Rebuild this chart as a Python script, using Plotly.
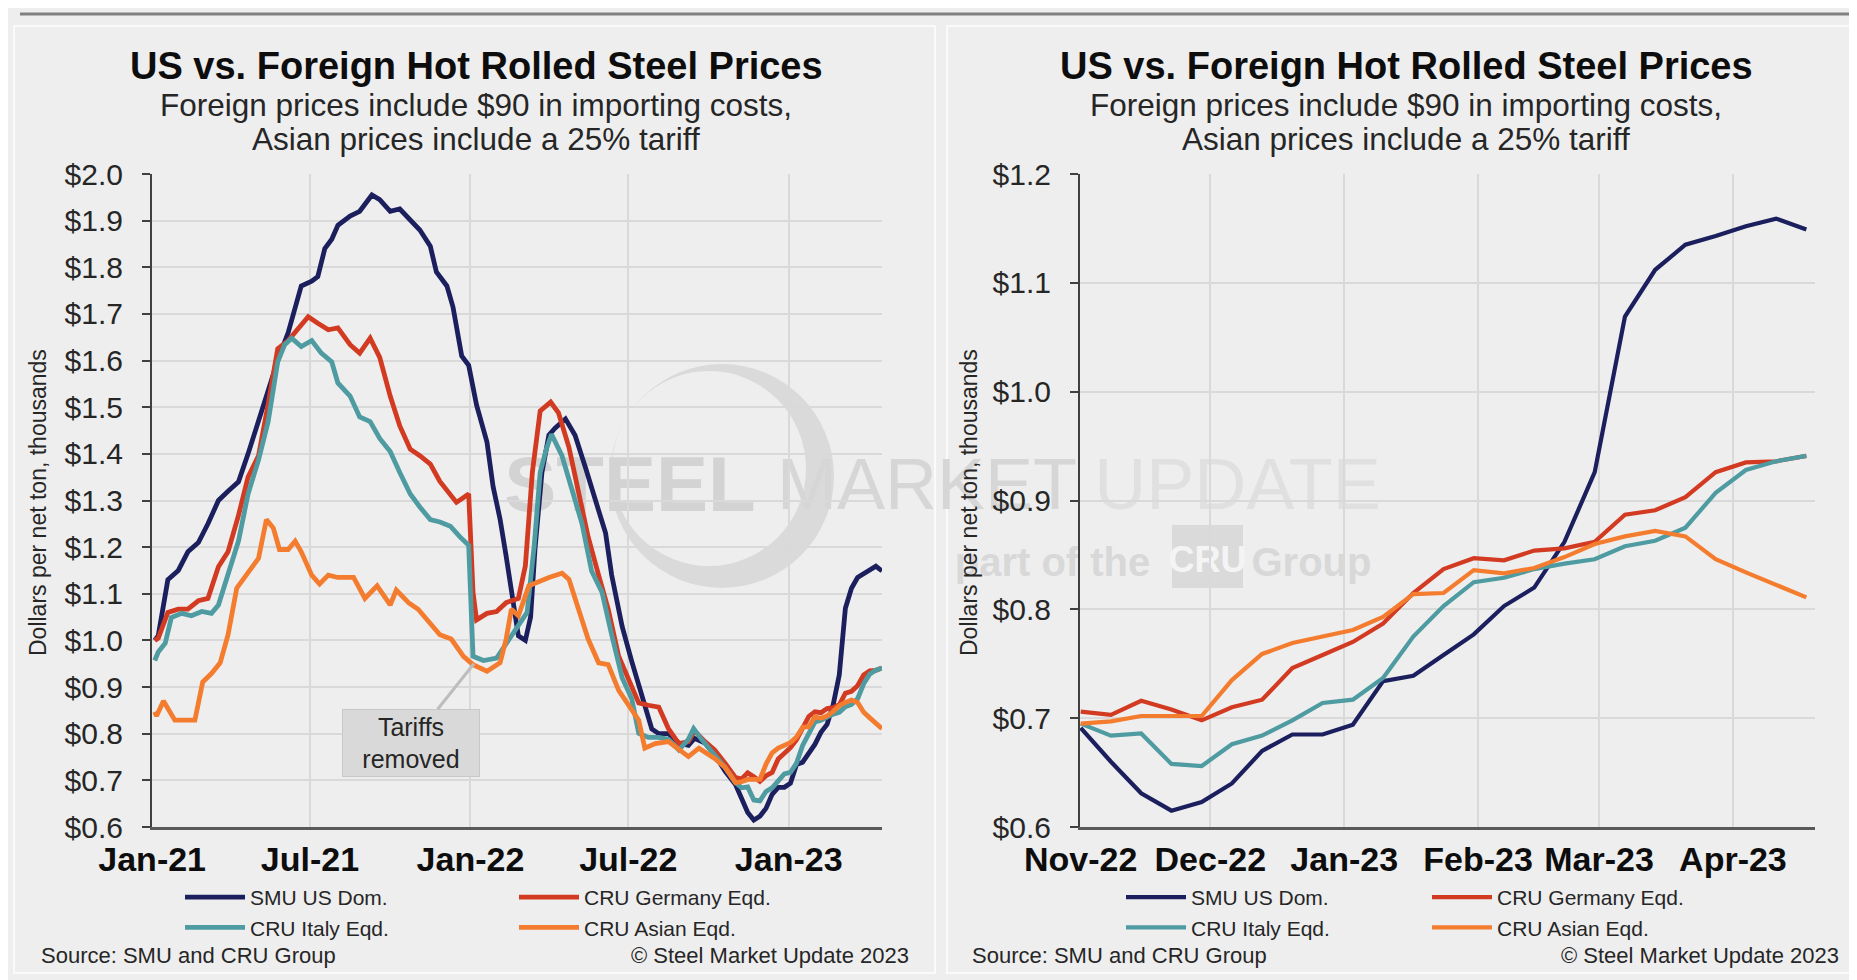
import plotly.graph_objects as go

FONT = "Liberation Sans, Arial, Helvetica, sans-serif"
OFF = 8            # default page margin of the html body
FW, FH = 1857 - OFF, 980 - OFF

# ---------------- data ($ thousands per net ton) -------------
series_names = ["SMU US Dom.", "CRU Germany Eqd.", "CRU Italy Eqd.", "CRU Asian Eqd."]
series_colors = ["#1c1f5e", "#d23b22", "#4e9ba1", "#f47c2f"]

# Jan-2021 .. Oct-2022 (left chart)
us_dates_early = ["2021-01-04", "2021-01-08", "2021-01-19", "2021-01-31", "2021-02-11", "2021-02-23",
                  "2021-03-06", "2021-03-18", "2021-03-29", "2021-04-10", "2021-04-21", "2021-05-03",
                  "2021-05-14", "2021-05-25", "2021-06-06", "2021-06-21", "2021-07-03", "2021-07-10",
                  "2021-07-18", "2021-07-26", "2021-08-02", "2021-08-16", "2021-08-27", "2021-09-10",
                  "2021-09-19", "2021-10-01", "2021-10-12", "2021-10-24", "2021-11-04", "2021-11-16",
                  "2021-11-23", "2021-12-05", "2021-12-12", "2021-12-22", "2021-12-30", "2022-01-08",
                  "2022-01-20", "2022-01-27", "2022-02-04", "2022-02-11", "2022-02-19", "2022-02-25",
                  "2022-03-05", "2022-03-11", "2022-03-16", "2022-03-24", "2022-04-01", "2022-04-08",
                  "2022-04-20", "2022-05-01", "2022-05-13", "2022-05-24", "2022-06-05", "2022-06-12",
                  "2022-06-24", "2022-07-05", "2022-07-17", "2022-07-28", "2022-08-05", "2022-08-16",
                  "2022-08-28", "2022-09-08", "2022-09-15", "2022-09-27", "2022-10-08", "2022-10-20"]
us_vals_early = [1.00, 1.01, 1.13, 1.15, 1.19, 1.21,
                 1.25, 1.30, 1.32, 1.34, 1.40, 1.47,
                 1.54, 1.60, 1.66, 1.76, 1.77, 1.78,
                 1.84, 1.86, 1.89, 1.91, 1.92, 1.955,
                 1.945, 1.92, 1.925, 1.90, 1.88, 1.845,
                 1.79, 1.76, 1.715, 1.61, 1.59, 1.505,
                 1.425, 1.33, 1.26, 1.18, 1.075, 1.01,
                 1.00, 1.05, 1.195, 1.36, 1.44, 1.455,
                 1.475, 1.44, 1.37, 1.305, 1.23, 1.14,
                 1.03, 0.955, 0.875, 0.81, 0.80, 0.80,
                 0.78, 0.775, 0.79, 0.78, 0.755, 0.72]

de_dates_early = ["2021-01-04", "2021-01-08", "2021-01-19", "2021-01-31", "2021-02-11", "2021-02-23",
                  "2021-03-06", "2021-03-18", "2021-03-29", "2021-04-10", "2021-04-21", "2021-05-03",
                  "2021-05-14", "2021-05-25", "2021-06-06", "2021-06-17", "2021-06-29", "2021-07-10",
                  "2021-07-22", "2021-08-02", "2021-08-16", "2021-08-27", "2021-09-08", "2021-09-19",
                  "2021-10-01", "2021-10-12", "2021-10-24", "2021-11-04", "2021-11-16", "2021-11-27",
                  "2021-12-16", "2021-12-30", "2022-01-04", "2022-01-08", "2022-01-20", "2022-01-31",
                  "2022-02-11", "2022-02-25", "2022-03-05", "2022-03-13", "2022-03-22", "2022-04-03",
                  "2022-04-12", "2022-04-24", "2022-05-05", "2022-05-16", "2022-05-28", "2022-06-08",
                  "2022-06-20", "2022-07-01", "2022-07-13", "2022-07-24", "2022-08-05", "2022-08-16",
                  "2022-08-28", "2022-09-08", "2022-09-15", "2022-09-27", "2022-10-08", "2022-10-20"]
de_vals_early = [1.00, 1.005, 1.06, 1.067, 1.067, 1.085,
                 1.09, 1.158, 1.19, 1.268, 1.35, 1.396,
                 1.506, 1.625, 1.643, 1.666, 1.694, 1.68,
                 1.666, 1.67, 1.634, 1.616, 1.648, 1.607,
                 1.524, 1.46, 1.41, 1.396, 1.378, 1.341,
                 1.296, 1.314, 1.103, 1.044, 1.058, 1.062,
                 1.081, 1.09, 1.16, 1.36, 1.492, 1.511,
                 1.488, 1.414, 1.323, 1.222, 1.14, 1.067,
                 0.966, 0.92, 0.866, 0.861, 0.857, 0.811,
                 0.779, 0.783, 0.806, 0.783, 0.765, 0.737]

it_dates_early = ["2021-01-04", "2021-01-08", "2021-01-16", "2021-01-23", "2021-02-04", "2021-02-15",
                  "2021-02-27", "2021-03-10", "2021-03-18", "2021-03-29", "2021-04-10", "2021-04-21",
                  "2021-05-03", "2021-05-14", "2021-05-25", "2021-06-02", "2021-06-10", "2021-06-21",
                  "2021-07-03", "2021-07-14", "2021-07-26", "2021-08-02", "2021-08-16", "2021-08-27",
                  "2021-09-08", "2021-09-19", "2021-10-01", "2021-10-12", "2021-10-24", "2021-11-04",
                  "2021-11-16", "2021-11-27", "2021-12-09", "2021-12-20", "2021-12-30", "2022-01-04",
                  "2022-01-16", "2022-01-31", "2022-02-15", "2022-03-07", "2022-03-15", "2022-03-22",
                  "2022-03-29", "2022-04-04", "2022-04-16", "2022-04-27", "2022-05-09", "2022-05-20",
                  "2022-06-01", "2022-06-12", "2022-06-24", "2022-07-05", "2022-07-13", "2022-07-24",
                  "2022-08-05", "2022-08-16", "2022-08-28", "2022-09-08", "2022-09-14", "2022-09-23",
                  "2022-10-08", "2022-10-20"]
it_vals_early = [0.957, 0.975, 0.994, 1.049, 1.058, 1.053,
                 1.062, 1.058, 1.076, 1.14, 1.213, 1.314,
                 1.387, 1.469, 1.597, 1.634, 1.648, 1.63,
                 1.643, 1.616, 1.597, 1.552, 1.524, 1.479,
                 1.469, 1.433, 1.405, 1.36, 1.314, 1.286,
                 1.259, 1.254, 1.245, 1.222, 1.204, 0.966,
                 0.957, 0.962, 1.005, 1.06, 1.20, 1.36,
                 1.41, 1.442, 1.396, 1.323, 1.25, 1.149,
                 1.103, 1.012, 0.92, 0.875, 0.801, 0.792,
                 0.792, 0.788, 0.765, 0.788, 0.811, 0.788,
                 0.756, 0.728]

as_dates_early = ["2021-01-04", "2021-01-06", "2021-01-14", "2021-01-27", "2021-02-07", "2021-02-19",
                  "2021-02-28", "2021-03-10", "2021-03-20", "2021-03-29", "2021-04-08", "2021-04-17",
                  "2021-04-25", "2021-05-03", "2021-05-12", "2021-05-20", "2021-05-27", "2021-06-06",
                  "2021-06-14", "2021-06-21", "2021-07-03", "2021-07-12", "2021-07-22", "2021-08-02",
                  "2021-08-20", "2021-09-02", "2021-09-16", "2021-10-01", "2021-10-08", "2021-10-22",
                  "2021-11-02", "2021-11-16", "2021-11-27", "2021-12-10", "2021-12-24", "2022-01-04",
                  "2022-01-20", "2022-02-04", "2022-02-11", "2022-02-17", "2022-02-25", "2022-03-09",
                  "2022-03-20", "2022-04-01", "2022-04-16", "2022-04-24", "2022-05-05", "2022-05-16",
                  "2022-05-28", "2022-06-08", "2022-06-20", "2022-07-05", "2022-07-13", "2022-07-20",
                  "2022-08-01", "2022-08-16", "2022-08-28", "2022-09-08", "2022-09-20", "2022-09-27",
                  "2022-10-08", "2022-10-20"]
as_vals_early = [0.847, 0.838, 0.87, 0.829, 0.829, 0.829,
                 0.911, 0.929, 0.952, 1.012, 1.112, 1.135,
                 1.158, 1.176, 1.259, 1.241, 1.195, 1.195,
                 1.213, 1.19, 1.14, 1.121, 1.14, 1.135,
                 1.135, 1.09, 1.117, 1.076, 1.108, 1.081,
                 1.067, 1.035, 1.012, 1.003, 0.966, 0.948,
                 0.934, 0.952, 1.003, 1.067, 1.053, 1.117,
                 1.126, 1.135, 1.144, 1.131, 1.067, 1.003,
                 0.952, 0.948, 0.893, 0.852, 0.829, 0.769,
                 0.779, 0.783, 0.765, 0.751, 0.769, 0.76,
                 0.747, 0.728]

# Weekly Nov-2022 .. Apr-2023 (right chart, also the tail of the left chart)
weekly_dates = ["2022-11-01", "2022-11-08", "2022-11-15", "2022-11-22", "2022-11-29", "2022-12-06",
                "2022-12-13", "2022-12-20", "2022-12-27", "2023-01-03", "2023-01-10", "2023-01-17",
                "2023-01-24", "2023-01-31", "2023-02-07", "2023-02-14", "2023-02-21", "2023-02-28",
                "2023-03-07", "2023-03-14", "2023-03-21", "2023-03-28", "2023-04-04", "2023-04-11",
                "2023-04-18"]
us_weekly = [0.691, 0.660, 0.631, 0.615, 0.623, 0.640, 0.670, 0.685, 0.685, 0.694, 0.734, 0.739,
             0.758, 0.777, 0.803, 0.820, 0.862, 0.926, 1.069, 1.112, 1.135, 1.143, 1.152, 1.159, 1.149]
de_weekly = [0.706, 0.703, 0.716, 0.708, 0.698, 0.710, 0.717, 0.746, 0.758, 0.770, 0.787, 0.815,
             0.837, 0.847, 0.845, 0.854, 0.856, 0.862, 0.887, 0.891, 0.903, 0.926, 0.935, 0.936, 0.941]
it_weekly = [0.695, 0.684, 0.686, 0.658, 0.656, 0.676, 0.684, 0.698, 0.714, 0.717, 0.737, 0.775,
             0.803, 0.825, 0.829, 0.837, 0.842, 0.846, 0.858, 0.863, 0.875, 0.907, 0.928, 0.936, 0.941]
as_weekly = [0.695, 0.697, 0.702, 0.702, 0.702, 0.735, 0.759, 0.769, 0.775, 0.781, 0.793, 0.814,
             0.815, 0.836, 0.833, 0.838, 0.848, 0.860, 0.867, 0.872, 0.867, 0.846, 0.834, 0.823, 0.811]

early_dates = [us_dates_early, de_dates_early, it_dates_early, as_dates_early]
early_vals = [us_vals_early, de_vals_early, it_vals_early, as_vals_early]
weekly_vals = [us_weekly, de_weekly, it_weekly, as_weekly]


# ---------------- helpers (screen px -> paper fraction) -----------------
def px(x):
    return (x - OFF) / FW


def py(y):
    return 1 - (y - OFF) / FH


left_legends = ["legend", "legend2", "legend", "legend2"]
right_legends = ["legend3", "legend4", "legend3", "legend4"]

fig = go.Figure()
for i, name in enumerate(series_names):
    fig.add_trace(go.Scatter(
        x=early_dates[i] + weekly_dates, y=early_vals[i] + weekly_vals[i],
        mode="lines", name=name, line=dict(color=series_colors[i], width=4.8),
        xaxis="x", yaxis="y", legend=left_legends[i], hoverinfo="x+y+name"))
for i, name in enumerate(series_names):
    fig.add_trace(go.Scatter(
        x=weekly_dates, y=weekly_vals[i],
        mode="lines", name=name, line=dict(color=series_colors[i], width=4.2),
        xaxis="x2", yaxis="y2", legend=right_legends[i], hoverinfo="x+y+name"))

grid = "#d9d9d9"
ytick_font = dict(family=FONT, size=30, color="#262626")
xtick_font = dict(family=FONT, size=34, color="#0d0d0d", weight="bold")

common_x = dict(type="date", showgrid=True, gridcolor=grid, gridwidth=1.5, tickformat="%b-%y",
                showline=True, linecolor="#595959", linewidth=2.5, ticks="", tickfont=xtick_font,
                ticklabelstandoff=0, zeroline=False, automargin=False)
common_y = dict(showgrid=True, gridcolor=grid, gridwidth=1.5, dtick=0.1, tickformat="$.1f",
                showline=True, linecolor="#404040", linewidth=2, ticks="outside", ticklen=8,
                tickcolor="#404040", tickwidth=1.5, tickfont=ytick_font, ticklabelstandoff=13,
                zeroline=False, automargin=False)

legend_common = dict(orientation="v", xanchor="left", yanchor="top", bgcolor="rgba(0,0,0,0)",
                     font=dict(family=FONT, size=21, color="#262626"), tracegroupgap=0,
                     itemwidth=60, itemclick=False, itemdoubleclick=False)

fig.update_layout(
    width=FW, height=FH, margin=dict(l=0, r=0, t=0, b=0),
    paper_bgcolor="#eeeeee", plot_bgcolor="rgba(0,0,0,0)",
    font=dict(family=FONT, color="#262626"),
    showlegend=True,
    xaxis=dict(common_x, domain=[px(152), px(882)], anchor="y", dtick="M6",
               tick0="2021-01-01", range=["2020-12-31 20:00", "2023-04-18"]),
    yaxis=dict(common_y, domain=[py(827), py(174)], anchor="x", range=[0.6, 2.0]),
    xaxis2=dict(common_x, domain=[px(1080), px(1815)], anchor="y2", dtick="M1",
                tick0="2022-11-01", range=["2022-10-31 20:00", "2023-04-20"]),
    yaxis2=dict(common_y, domain=[py(827), py(174)], anchor="x2", range=[0.6, 1.2]),
    legend=dict(legend_common, x=px(180), y=py(877)),
    legend2=dict(legend_common, x=px(514), y=py(877)),
    legend3=dict(legend_common, x=px(1121), y=py(877)),
    legend4=dict(legend_common, x=px(1427), y=py(877)),
)

# ---------------- decorations -----------------
shapes = []
# top rule
shapes.append(dict(type="line", xref="paper", yref="paper", x0=px(20), x1=1, y0=py(14), y1=py(14),
                   line=dict(color="#808080", width=3), layer="below"))
# panel frames
shapes.append(dict(type="rect", xref="paper", yref="paper", x0=px(14), x1=px(935), y0=py(973), y1=py(26),
                   line=dict(color="#fafafa", width=2), fillcolor="rgba(0,0,0,0)", layer="below"))
shapes.append(dict(type="rect", xref="paper", yref="paper", x0=px(947), x1=px(1856), y0=py(973), y1=py(26),
                   line=dict(color="#fafafa", width=2), fillcolor="rgba(0,0,0,0)", layer="below"))
# watermark swoosh
shapes.append(dict(type="circle", xref="paper", yref="paper", x0=px(610), x1=px(834), y0=py(588), y1=py(364),
                   line=dict(width=0), fillcolor="#dadada", layer="below"))
shapes.append(dict(type="circle", xref="paper", yref="paper", x0=px(612), x1=px(806), y0=py(566), y1=py(371),
                   line=dict(width=0), fillcolor="#eeeeee", layer="below"))


def wm(x0, x1, y0, y1, text, size, color, bold=False, fill="rgba(0,0,0,0)"):
    return dict(type="rect", xref="paper", yref="paper", x0=px(x0), x1=px(x1), y0=py(y1), y1=py(y0),
                line=dict(width=0), fillcolor=fill, layer="below",
                label=dict(text=("<b>%s</b>" % text) if bold else text, textposition="middle center",
                           font=dict(family=FONT, size=size, color=color)))


shapes.append(wm(498, 762, 450, 504, "STEEL", 78, "#d3d3d3", bold=True))
shapes.append(wm(780, 1074, 450, 504, "MARKET", 72, "#d6d6d6"))
shapes.append(wm(1099, 1376, 450, 504, "UPDATE", 72, "#e0e0e0"))
shapes.append(wm(945, 1160, 535, 580, "part of the", 40, "#d8d8d8", bold=True))
shapes.append(wm(1172, 1243, 525, 588, "CRU", 36, "#f4f4f4", bold=True, fill="#dadada"))
shapes.append(wm(1253, 1370, 535, 580, "Group", 40, "#d8d8d8", bold=True))
fig.update_layout(shapes=shapes)

title_txt = "<b>US vs. Foreign Hot Rolled Steel Prices</b>"
sub1 = "Foreign prices include $90 in importing costs,"
sub2 = "Asian prices include a 25% tariff"
ann = []
for cx in (476, 1406):
    ann.append(dict(xref="paper", yref="paper", x=px(cx), y=py(66), text=title_txt, showarrow=False,
                    xanchor="center", yanchor="middle", font=dict(family=FONT, size=38, color="#0d0d0d")))
    for yy, t in ((105, sub1), (139, sub2)):
        ann.append(dict(xref="paper", yref="paper", x=px(cx), y=py(yy), text=t, showarrow=False,
                        xanchor="center", yanchor="middle", font=dict(family=FONT, size=31.5, color="#262626")))
for cx in (38, 969):
    ann.append(dict(xref="paper", yref="paper", x=px(cx), y=py(503), text="Dollars per net ton, thousands",
                    textangle=-90, showarrow=False, xanchor="center", yanchor="middle",
                    font=dict(family=FONT, size=23, color="#262626")))
for sx, cx in ((39, 911), (970, 1841)):
    ann.append(dict(xref="paper", yref="paper", x=px(sx), y=py(955), text="Source: SMU and CRU Group",
                    showarrow=False, xanchor="left", yanchor="middle",
                    font=dict(family=FONT, size=22, color="#262626")))
    ann.append(dict(xref="paper", yref="paper", x=px(cx), y=py(955), text="© Steel Market Update 2023",
                    showarrow=False, xanchor="right", yanchor="middle",
                    font=dict(family=FONT, size=22, color="#262626")))
ann.append(dict(xref="x", yref="y", x="2022-01-05", y=0.95, text="Tariffs<br>removed",
                showarrow=True, arrowhead=0, arrowwidth=3, arrowcolor="#bdbdbd", ax=-63, ay=79,
                bgcolor="#d9d9d9", bordercolor="#c8c8c8", borderwidth=1, borderpad=4,
                width=128, height=58, font=dict(family=FONT, size=25, color="#262626")))
fig.update_layout(annotations=ann)

fig.write_html("out.html")
